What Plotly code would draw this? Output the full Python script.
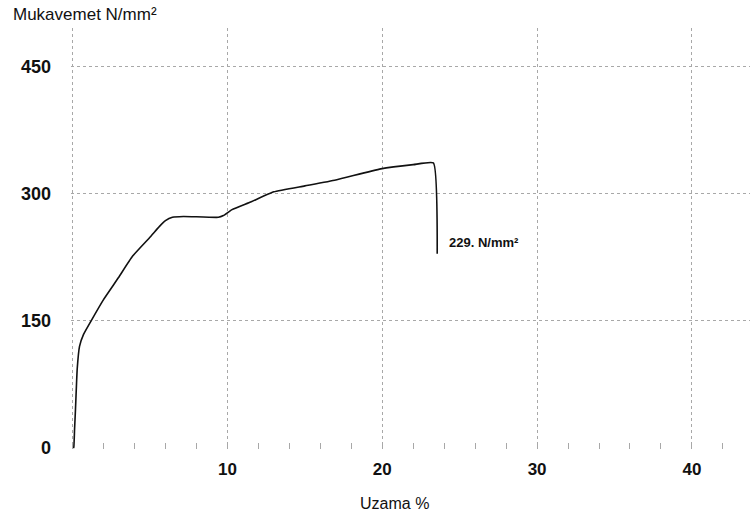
import plotly.graph_objects as go

# Tensile test record: elongation (%) vs. strength (N/mm²)
strain = [0.05, 0.08, 0.13, 0.19, 0.30, 0.45, 0.71, 1.2, 2.0, 2.97, 3.87, 5.03, 5.6, 6.0, 6.45,
          7.16, 9.42, 9.74, 10.3, 11.5, 13.0, 15.0, 17.0, 19.9, 22.0, 23.3, 23.55]
stress = [0, 1, 22, 46, 93, 120, 134, 150, 175, 201, 226, 249, 261, 268, 272,
          273, 272, 274, 281, 290, 302, 309, 316, 329, 334, 336, 229]

x_ticks = [0, 10, 20, 30, 40]
x_labels = ["", "10", "20", "30", "40"]
y_ticks = [0, 150, 300, 450]
y_labels = ["0", "150", "300", "450"]

break_value = stress[-1]

FONT = "Liberation Sans, Arial, sans-serif"
GRID = "#a8a8a8"

fig = go.Figure()
fig.add_trace(go.Scatter(
    x=strain, y=stress, mode="lines",
    line=dict(color="#111111", width=1.6, shape="spline", smoothing=0.4),
    hoverinfo="skip", showlegend=False,
))

fig.update_layout(
    width=750, height=528,
    margin=dict(l=71, r=0, t=28, b=79),
    paper_bgcolor="white", plot_bgcolor="white",
    font=dict(family=FONT, color="#111111"),
    xaxis=dict(
        range=[-0.1, 43.75], tickvals=x_ticks, ticktext=x_labels,
        showgrid=True, gridcolor=GRID, griddash="dot", gridwidth=1,
        zeroline=False, showline=False, ticks="",
        ticklabelstandoff=8,
        tickfont=dict(family=FONT, size=17, color="#111111", weight="bold"),
        minor=dict(dtick=2, ticks="inside", ticklen=6, tickcolor=GRID, showgrid=False),
    ),
    yaxis=dict(
        range=[-1, 495], tickvals=y_ticks, ticktext=y_labels,
        showgrid=True, gridcolor=GRID, griddash="dot", gridwidth=1,
        zeroline=False, showline=False, ticks="",
        ticklabelstandoff=19,
        tickfont=dict(family=FONT, size=18, color="#111111", weight="bold"),
    ),
    annotations=[
        dict(text="Mukavemet N/mm²", xref="paper", yref="paper",
             x=(11 - 71) / 679, y=1 + (28 - 3) / 421, xanchor="left", yanchor="top",
             showarrow=False, font=dict(family=FONT, size=17, color="#111111")),
        dict(text="Uzama %", xref="paper", yref="paper",
             x=(394 - 71) / 679, y=-(503 - 449) / 421, xanchor="center", yanchor="middle",
             showarrow=False, font=dict(family=FONT, size=16, color="#111111")),
        dict(text=f"{break_value}. N/mm²", x=24.2, y=242, xref="x", yref="y",
             xanchor="left", yanchor="middle", showarrow=False,
             font=dict(family=FONT, size=13, color="#111111", weight="bold")),
    ],
)

fig.write_html("out.html")
